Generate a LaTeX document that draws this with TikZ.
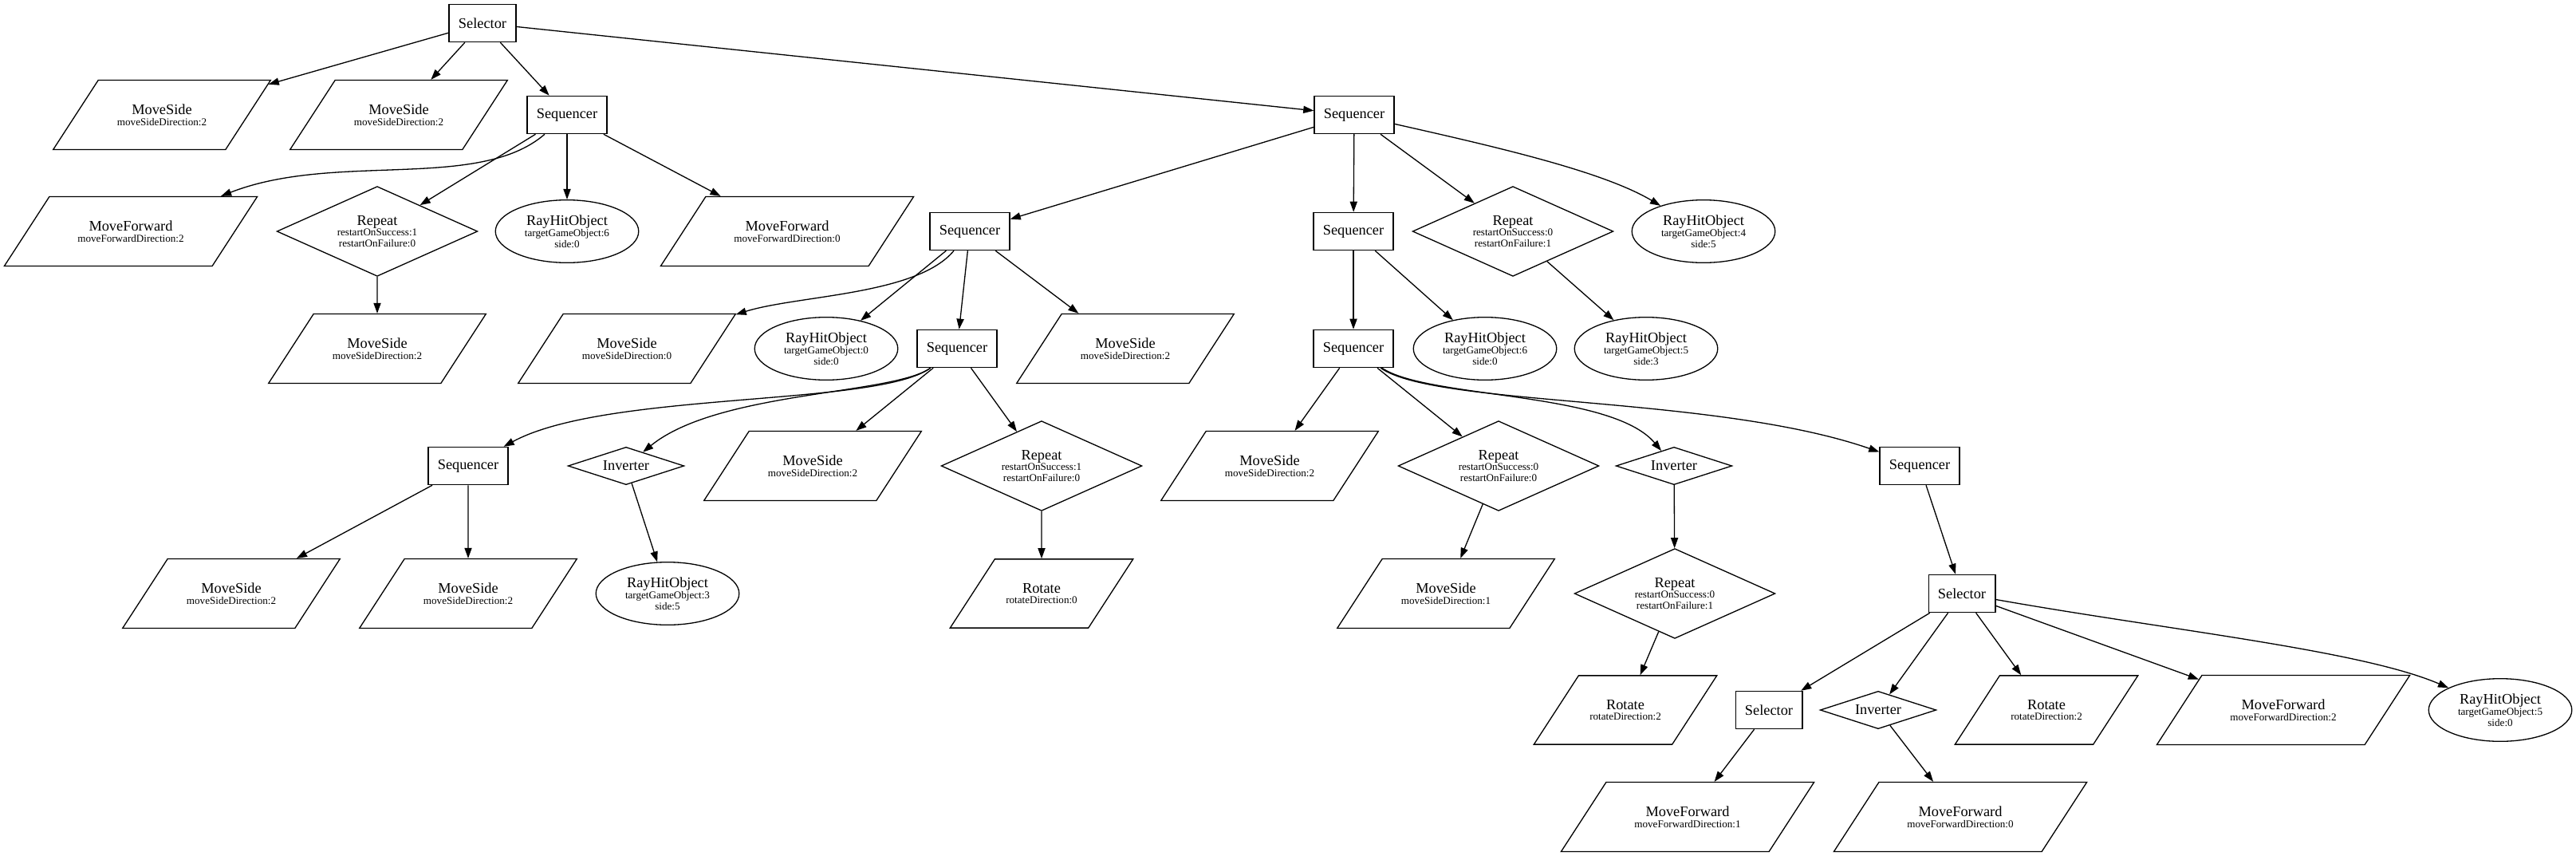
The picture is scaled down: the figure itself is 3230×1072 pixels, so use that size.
\documentclass[tikz,border=0pt]{standalone}
\usepackage{fontspec}
\setmainfont{Liberation Serif}
\usepackage{tikz}
\usetikzlibrary{arrows.meta,shapes.geometric}

\newcommand{\argfont}{\fontsize{10}{10.5}\selectfont}

\begin{document}
\begin{tikzpicture}[x=0.763pt,y=-0.763pt,line width=1pt,
        font=\fontsize{14}{10.5}\selectfont,
        every node/.style={draw,align=center,inner sep=1pt},
        ctrl/.style={rectangle,inner xsep=9pt,minimum width=54pt,minimum height=36pt},
        act/.style={trapezium,trapezium left angle=57,trapezium right angle=123,
            trapezium stretches body,inner xsep=1pt,inner ysep=23pt,minimum width=#1},
        cond/.style={ellipse,inner sep=0pt,minimum width=137pt,minimum height=60pt},
        rep/.style={diamond,aspect=2.2,inner sep=0pt,minimum width=192pt,minimum height=86pt},
        inv/.style={diamond,aspect=3,inner sep=0pt,minimum width=111pt,minimum height=36pt},
        link/.style={-{Triangle[length=10pt,width=7pt]}}]
            \useasboundingbox (0,0) rectangle (3230,1072);
            \node[ctrl] (sel0) at (605,29) {Selector};
            \node[act=208pt] (ms1) at (203,144) {MoveSide\\{\argfont moveSideDirection:2}};
            \node[act=208pt] (ms2) at (500,144) {MoveSide\\{\argfont moveSideDirection:2}};
            \node[ctrl] (seqA) at (711,144) {Sequencer};
            \node[ctrl] (seqB) at (1698,144) {Sequencer};
            \node[act=242pt] (mf1) at (164,290) {MoveForward\\{\argfont moveForwardDirection:2}};
            \node[rep] (rep1) at (473,290) {Repeat\\{\argfont restartOnSuccess:1}\\{\argfont restartOnFailure:0}};
            \node[cond] (ray1) at (711,290) {RayHitObject\\{\argfont targetGameObject:6}\\{\argfont side:0}};
            \node[act=242pt] (mf2) at (987,290) {MoveForward\\{\argfont moveForwardDirection:0}};
            \node[ctrl] (seqC) at (1216,290) {Sequencer};
            \node[ctrl] (seqD) at (1697,290) {Sequencer};
            \node[rep] (rep2) at (1897,290) {Repeat\\{\argfont restartOnSuccess:0}\\{\argfont restartOnFailure:1}};
            \node[cond] (ray2) at (2136,290) {RayHitObject\\{\argfont targetGameObject:4}\\{\argfont side:5}};
            \node[act=208pt] (ms3) at (473,437) {MoveSide\\{\argfont moveSideDirection:2}};
            \node[act=208pt] (ms4) at (786,437) {MoveSide\\{\argfont moveSideDirection:0}};
            \node[cond] (ray3) at (1036,437) {RayHitObject\\{\argfont targetGameObject:0}\\{\argfont side:0}};
            \node[ctrl] (seqE) at (1200,437) {Sequencer};
            \node[act=208pt] (ms5) at (1411,437) {MoveSide\\{\argfont moveSideDirection:2}};
            \node[ctrl] (seqF) at (1697,437) {Sequencer};
            \node[cond] (ray4) at (1862,437) {RayHitObject\\{\argfont targetGameObject:6}\\{\argfont side:0}};
            \node[cond] (ray5) at (2064,437) {RayHitObject\\{\argfont targetGameObject:5}\\{\argfont side:3}};
            \node[ctrl] (seqG) at (587,584) {Sequencer};
            \node[inv] (inv1) at (785,584) {Inverter};
            \node[act=208pt] (ms6) at (1019,584) {MoveSide\\{\argfont moveSideDirection:2}};
            \node[rep] (rep3) at (1306,584) {Repeat\\{\argfont restartOnSuccess:1}\\{\argfont restartOnFailure:0}};
            \node[act=208pt] (ms7) at (1592,584) {MoveSide\\{\argfont moveSideDirection:2}};
            \node[rep] (rep4) at (1879,584) {Repeat\\{\argfont restartOnSuccess:0}\\{\argfont restartOnFailure:0}};
            \node[inv] (inv2) at (2099,584) {Inverter};
            \node[ctrl] (seqH) at (2407,584) {Sequencer};
            \node[act=208pt] (ms8) at (290,744) {MoveSide\\{\argfont moveSideDirection:2}};
            \node[act=208pt] (ms9) at (587,744) {MoveSide\\{\argfont moveSideDirection:2}};
            \node[cond] (ray6) at (837,744) {RayHitObject\\{\argfont targetGameObject:3}\\{\argfont side:5}};
            \node[act=175pt] (rot1) at (1306,744) {Rotate\\{\argfont rotateDirection:0}};
            \node[act=208pt] (ms10) at (1813,744) {MoveSide\\{\argfont moveSideDirection:1}};
            \node[rep] (rep5) at (2100,744) {Repeat\\{\argfont restartOnSuccess:0}\\{\argfont restartOnFailure:1}};
            \node[ctrl] (sel1) at (2460,744) {Selector};
            \node[act=175pt] (rot2) at (2038,890) {Rotate\\{\argfont rotateDirection:2}};
            \node[ctrl] (sel2) at (2218,890) {Selector};
            \node[inv] (inv3) at (2355,890) {Inverter};
            \node[act=175pt] (rot3) at (2566,890) {Rotate\\{\argfont rotateDirection:2}};
            \node[act=242pt] (mf3) at (2863,890) {MoveForward\\{\argfont moveForwardDirection:2}};
            \node[cond] (ray7) at (3135,890) {RayHitObject\\{\argfont targetGameObject:5}\\{\argfont side:0}};
            \node[act=242pt] (mf4) at (2116,1024) {MoveForward\\{\argfont moveForwardDirection:1}};
            \node[act=242pt] (mf5) at (2458,1024) {MoveForward\\{\argfont moveForwardDirection:0}};
            \foreach \a/\b in {sel0/ms1,sel0/ms2,sel0/seqA,sel0/seqB,seqA/rep1,seqA/ray1,seqA/mf2,
                    rep1/ms3,seqB/seqC,seqB/seqD,seqB/rep2,seqC/ray3,seqC/seqE,seqC/ms5,
                    seqD/seqF,seqD/ray4,rep2/ray5,seqE/ms6,seqE/rep3,seqG/ms8,seqG/ms9,
                    inv1/ray6,rep3/rot1,seqF/ms7,seqF/rep4,rep4/ms10,inv2/rep5,rep5/rot2,
                    seqH/sel1,sel1/sel2,sel1/inv3,sel1/rot3,sel1/mf3,sel2/mf4,inv3/mf5}{
                    \draw[link] (\a) -- (\b);
                }
            \draw[link] (seqA) .. controls (600,240) and (420,190) .. (mf1);
            \draw[link] (seqC) .. controls (1150,370) and (1000,370) .. (ms4);
            \draw[link] (seqE) .. controls (1100,510) and (760,490) .. (seqG);
            \draw[link] (seqE) .. controls (1120,495) and (900,490) .. (inv1);
            \draw[link] (seqB) .. controls (1880,185) and (2010,215) .. (ray2);
            \draw[link] (seqF) .. controls (1790,500) and (2020,490) .. (inv2);
            \draw[link] (seqF) .. controls (1800,510) and (2150,495) .. (seqH);
            \draw[link] (sel1) .. controls (2720,790) and (2960,815) .. (ray7);
        \end{tikzpicture}
\end{document}
